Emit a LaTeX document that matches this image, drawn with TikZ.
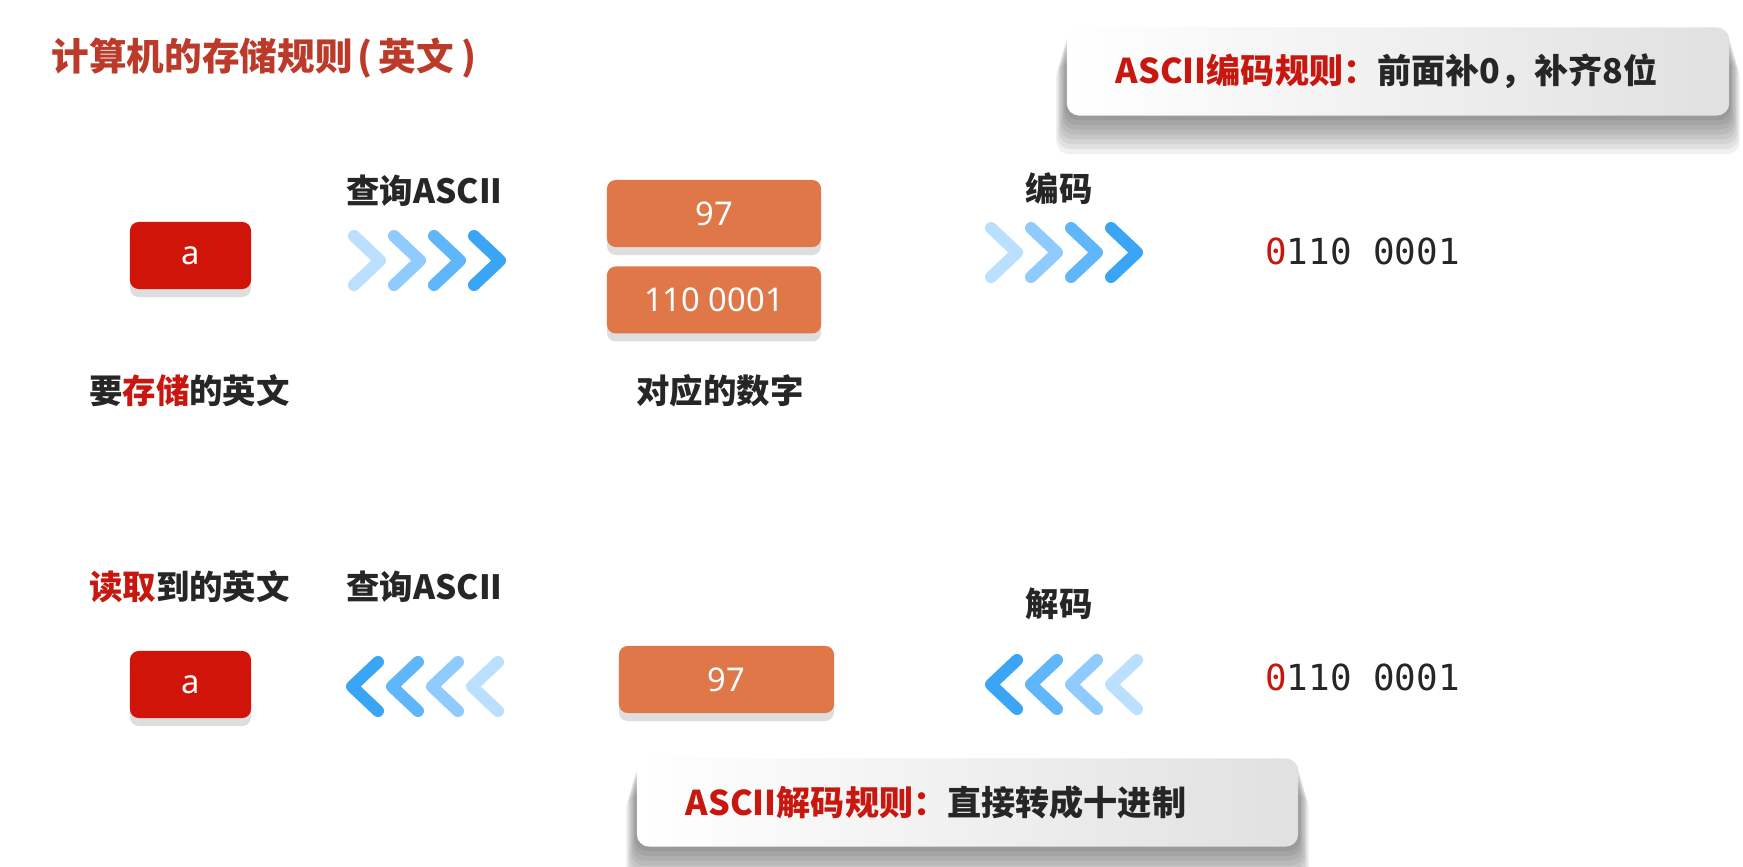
\documentclass[tikz,border=0pt]{standalone}
\usepackage{fontspec}
\setmainfont{Noto Sans CJK SC}
\newfontfamily\numfont{Noto Sans}
\newfontfamily\bitfont{DejaVu Sans Mono}
\usepackage{xcolor}
\usetikzlibrary{positioning, shadows}

\definecolor{keyred}{HTML}{D0140A}
\definecolor{numorange}{HTML}{E07749}
\definecolor{txtred}{HTML}{C8170F}
\definecolor{txtdark}{HTML}{262626}
\definecolor{titlered}{HTML}{BC3A2A}
\definecolor{chvA}{HTML}{BBDFFF}
\definecolor{chvB}{HTML}{90CBFF}
\definecolor{chvC}{HTML}{5FB6FA}
\definecolor{chvD}{HTML}{3AA5F5}

\tikzset{
  softshadow/.style={
    drop shadow={shadow xshift=0pt, shadow yshift=-3.6mm, shadow scale=1.032, opacity=0.06, fill=black},
    drop shadow={shadow xshift=0pt, shadow yshift=-3.15mm, shadow scale=1.028, opacity=0.06, fill=black},
    drop shadow={shadow xshift=0pt, shadow yshift=-2.7mm, shadow scale=1.024, opacity=0.06, fill=black},
    drop shadow={shadow xshift=0pt, shadow yshift=-2.25mm, shadow scale=1.02, opacity=0.06, fill=black},
    drop shadow={shadow xshift=0pt, shadow yshift=-1.8mm, shadow scale=1.016, opacity=0.06, fill=black},
    drop shadow={shadow xshift=0pt, shadow yshift=-1.35mm, shadow scale=1.012, opacity=0.06, fill=black},
    drop shadow={shadow xshift=0pt, shadow yshift=-0.9mm, shadow scale=1.008, opacity=0.06, fill=black},
    drop shadow={shadow xshift=0pt, shadow yshift=-0.45mm, shadow scale=1.004, opacity=0.06, fill=black}}
}

\begin{document}
\begin{tikzpicture}[x=0.01cm, y=-0.01cm,
  keybox/.style={rectangle, rounded corners=2.5pt, fill=keyred, text=white,
                 minimum width=1.21cm, minimum height=0.67cm,
                 font=\numfont\fontsize{9.3}{11}\selectfont,
                 drop shadow={shadow xshift=0cm, shadow yshift=-0.08cm, fill=black!13, opacity=1}},
  numbox/.style={keybox, fill=numorange, minimum width=2.14cm},
  rulebox/.style={rectangle, rounded corners=3.5pt, left color=white, right color=black!12,
                  minimum height=0.88cm, inner xsep=0.49cm, align=left, text=txtdark,
                  font=\bfseries\fontsize{9.7}{11}\selectfont, softshadow},
  lbl/.style={font=\bfseries\fontsize{9.5}{11}\selectfont, text=txtdark, inner sep=0pt},
  bits/.style={font=\bitfont\fontsize{10.2}{12}\selectfont, text=txtdark, inner sep=0pt},
  chev/.style={line width=0.12cm, line cap=round, line join=round}
]
\fill[white] (0,0) rectangle (1743,867);
\useasboundingbox (0,0) rectangle (1743,867);

% title
\node[anchor=west, inner sep=0pt, text=titlered, font=\bfseries\fontsize{10.7}{13}\selectfont]
  (title) at (51,58) {计算机的存储规则\kern0.13em(\kern0.16em英文\kern0.2em)};

% rule boxes
\node[rulebox, text width=5.64cm] (encrule) at (1398,71.5)
  {{\color{txtred}ASCII编码规则：}前面补0，补齐8位};
\node[rulebox, text width=5.63cm] (decrule) at (967.5,802.5)
  {{\color{txtred}ASCII解码规则：}直接转成十进制};

% storing
\node[keybox] (src) at (190.5,255.5) {a};
\node[numbox] (dec1) at (714,213.5) {97};
\node[numbox, below=0.18cm of dec1] (bin1) {110 0001};
\node[bits] (out1) at (1362.5,251) {{\color{txtred}0}110 0001};

\node[lbl] (qry1) at (424.5,191) {查询ASCII};
\node[lbl] (enc) at (1059,189) {编码};
\node[lbl] (srclbl) at (189.5,391) {要{\color{txtred}存储}的英文};
\node[lbl] (numlbl) at (720,391) {对应的数字};

\foreach \c [count=\i from 0] in {chvA,chvB,chvC,chvD}
  \draw[chev, \c] (354+40*\i,236) -- ++(26,24.5) -- ++(-26,24.5);
\foreach \c [count=\i from 0] in {chvA,chvB,chvC,chvD}
  \draw[chev, \c] (991+40*\i,228) -- ++(26,24.5) -- ++(-26,24.5);

% reading
\node[lbl] (readlbl) at (189.5,587) {{\color{txtred}读取}到的英文};
\node[lbl] (qry2) at (424.5,587) {查询ASCII};
\node[lbl] (dcd) at (1059,604) {解码};

\node[keybox] (dst) at (190.5,684.5) {a};
\node[numbox, minimum width=2.15cm] (dec2) at (726.5,679.5) {97};
\node[bits] (out2) at (1362.5,677) {{\color{txtred}0}110 0001};

\foreach \c [count=\i from 0] in {chvD,chvC,chvB,chvA}
  \draw[chev, \c] (378+40*\i,662) -- ++(-26,24.5) -- ++(26,24.5);
\foreach \c [count=\i from 0] in {chvD,chvC,chvB,chvA}
  \draw[chev, \c] (1017+40*\i,660) -- ++(-26,24.5) -- ++(26,24.5);
\end{tikzpicture}
\end{document}
